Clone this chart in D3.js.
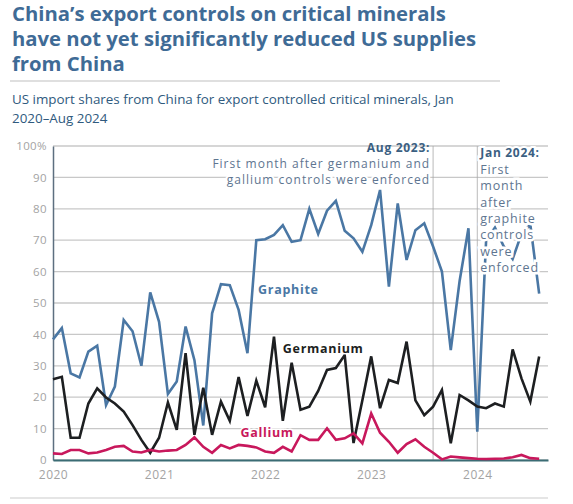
<!DOCTYPE html>
<meta charset="utf-8">
<script src="https://d3js.org/d3.v7.min.js"></script>
<style>
body { margin: 0; background: #fff; }
#chart text { font-family: "Open Sans", sans-serif; }
</style>
<div id="chart"></div>
<script>
// monthly values, Jan 2020 .. Aug 2024 (index 0 = Jan 2020)
var graphite = [38.4, 42, 27.6, 26.3, 34.5, 36.4, 17.5, 23.4, 44.6, 41, 30, 53.4,
  44, 21, 25, 42.5, 31.8, 11, 46.7, 56, 55.7, 47.8, 34, 70,
  70.3, 71.7, 74.8, 69.5, 70, 80, 72, 79.4, 82.5, 73, 70.6, 66.3,
  74.8, 86, 55.2, 81.7, 63.7, 73.2, 75.4, 68, 60, 35, 57, 73.8,
  9, 70, 74, 68, 64, 72, 75, 53];
var germanium = [25.7, 26.5, 7.1, 7.1, 18, 22.8, 19.9, 18, 15.4, 11.1, 6.4, 2.3,
  7.1, 18.3, 9.6, 34, 8, 23, 8, 18.6, 12.5, 26.4, 14, 25.3,
  16.8, 39.3, 12.5, 31, 16, 17, 22, 28.7, 29.3, 33.4, 5.4, 19,
  33, 16.5, 25.5, 24.5, 37.7, 19, 14.3, 17, 22.3, 5.3, 20.7, 19,
  17, 16.5, 18, 17, 35.2, 26, 18.6, 33];
var gallium = [2.1, 1.9, 3.2, 3.2, 2.1, 2.4, 3.2, 4.2, 4.5, 2.7, 2.4, 3.2,
  2.7, 3.0, 3.2, 4.8, 7.2, 4.2, 2.3, 4.8, 3.7, 4.8, 4.5, 4.0,
  2.7, 2.3, 4.2, 2.7, 7.9, 6.4, 6.4, 10.1, 6.4, 6.9, 8.5, 5.3,
  14.8, 8.7, 5.8, 2.3, 5.1, 6.6, 4.2, 2.3, 0.2, 1.1, 0.85, 0.6,
  0.4, 0.3, 0.4, 0.5, 0.85, 1.6, 0.6, 0.4];
var yearTicks = [0, 12, 24, 36, 48];
var yearLabels = ["2020", "2021", "2022", "2023", "2024"];
var yTicks = [0, 10, 20, 30, 40, 50, 60, 70, 80, 90, 100];
var eventMonths = [43, 48]; // Aug 2023, Jan 2024

var W = 573, H = 504;
var margin = { top: 146, right: 25, bottom: 44, left: 53 };

var svg = d3.select("#chart").append("svg")
  .attr("width", W).attr("height", H);

// title + subtitle
var title = ["China\u2019s export controls on critical minerals",
  "have not yet significantly reduced US supplies",
  "from China"];
svg.append("g").selectAll("text").data(title).enter().append("text")
  .attr("x", 12).attr("y", function(d, i) { return 21 + i * 25; })
  .attr("font-size", "20.3px").attr("font-weight", "bold")
  .attr("fill", "#3f6b96").text(function(d) { return d; });

svg.append("line").attr("x1", 10).attr("x2", 500).attr("y1", 81).attr("y2", 81)
  .attr("stroke", "#d5d5d5").attr("stroke-width", 1.5);

var sub = ["US import shares from China for export controlled critical minerals, Jan",
  "2020\u2013Aug 2024"];
svg.append("g").selectAll("text").data(sub).enter().append("text")
  .attr("x", 12).attr("y", function(d, i) { return 104 + i * 19; })
  .attr("font-size", "13.4px").attr("fill", "#2f5a7e").text(function(d) { return d; });

svg.append("line").attr("x1", 10).attr("x2", 548).attr("y1", 498).attr("y2", 498)
  .attr("stroke", "#dcdcdc").attr("stroke-width", 1.5);

var x = d3.scaleLinear().domain([0, 56]).range([margin.left, W - margin.right]);
var y = d3.scaleLinear().domain([0, 100]).range([H - margin.bottom, margin.top]);

// grid
svg.append("g").selectAll("line").data(yTicks).enter().append("line")
  .attr("x1", x(0)).attr("x2", x(56))
  .attr("y1", function(d) { return y(d); }).attr("y2", function(d) { return y(d); })
  .attr("stroke", "#c8c8c8").attr("stroke-width", 1.3);

// event lines
svg.append("g").selectAll("line").data(eventMonths).enter().append("line")
  .attr("x1", function(d) { return x(d); }).attr("x2", function(d) { return x(d); })
  .attr("y1", y(100)).attr("y2", y(0))
  .attr("stroke", "#a8a8a8").attr("stroke-width", 0.8);

// axes
var yAxis = svg.append("g").attr("transform", "translate(" + x(0) + ",0)")
  .call(d3.axisLeft(y).tickValues(yTicks).tickSize(0).tickPadding(6)
    .tickFormat(function(d) { return d === 100 ? "100%" : d; }));
yAxis.select(".domain").attr("stroke", "#5d6f80").attr("stroke-width", 1.5);
yAxis.selectAll("text").attr("font-size", "11.5px").attr("fill", "#a3a3a3")
  .attr("letter-spacing", "0.4px");

var xAxis = svg.append("g").attr("transform", "translate(0," + y(0) + ")")
  .call(d3.axisBottom(x).tickValues(yearTicks).tickSize(0).tickPadding(10)
    .tickFormat(function(d, i) { return yearLabels[i]; }));
xAxis.select(".domain").attr("stroke", "#3b6c74").attr("stroke-width", 2);
xAxis.selectAll("text").attr("font-size", "12px").attr("fill", "#a3a3a3")
  .attr("letter-spacing", "0.5px");

// series
var line = d3.line().x(function(d, i) { return x(i); }).y(function(d) { return y(d); });
var series = [
  { name: "Graphite", values: graphite, color: "#4a77a4" },
  { name: "Germanium", values: germanium, color: "#1d1f21" },
  { name: "Gallium", values: gallium, color: "#c8185c" }
];
svg.append("g").selectAll("path").data(series).enter().append("path")
  .attr("d", function(d) { return line(d.values); })
  .attr("fill", "none").attr("stroke", function(d) { return d.color; })
  .attr("stroke-width", 2.6).attr("stroke-linejoin", "miter");

// series labels (month, value at text centre)
var labelPos = [[23.2, 54.4], [26, 35.6], [21.2, 8.6]];
svg.append("g").selectAll("text").data(series).enter().append("text")
  .attr("x", function(d, i) { return x(labelPos[i][0]); })
  .attr("y", function(d, i) { return y(labelPos[i][1]) + 4.5; })
  .attr("font-size", "12.5px").attr("font-weight", "bold").attr("letter-spacing", "0.7px")
  .attr("fill", function(d) { return d.color; })
  .attr("stroke", "#fff").attr("stroke-width", 3).attr("paint-order", "stroke")
  .text(function(d) { return d.name; });

// annotations
var ann1 = ["First month after germanium and", "gallium controls were enforced"];
var ann2 = ["First", "month", "after", "graphite", "controls", "were", "enforced"];
var g1 = svg.append("g").attr("text-anchor", "end");
g1.append("text").attr("x", x(43) - 3).attr("y", 152)
  .attr("font-size", "12px").attr("font-weight", "bold").attr("fill", "#3b5f82")
  .attr("letter-spacing", "0.7px")
  .text("Aug 2023:");
g1.selectAll("text.l").data(ann1).enter().append("text").attr("class", "l")
  .attr("x", x(43) - 3).attr("y", function(d, i) { return 168 + i * 16; })
  .attr("font-size", "12px").attr("fill", "#5e7590").attr("letter-spacing", "1px")
  .attr("stroke", "#fff").attr("stroke-width", 4).attr("paint-order", "stroke")
  .text(function(d) { return d; });

var g2 = svg.append("g");
g2.append("text").attr("x", x(48) + 3).attr("y", 157)
  .attr("font-size", "12px").attr("font-weight", "bold").attr("fill", "#3b5f82")
  .attr("letter-spacing", "0.7px")
  .attr("stroke", "#fff").attr("stroke-width", 4).attr("paint-order", "stroke")
  .text("Jan 2024:");
g2.selectAll("text.l").data(ann2).enter().append("text").attr("class", "l")
  .attr("x", x(48) + 3).attr("y", function(d, i) { return 174 + i * 16.3; })
  .attr("font-size", "12.5px").attr("fill", "#5e7590").attr("letter-spacing", "0.8px")
  .attr("stroke", "#fff").attr("stroke-width", 5).attr("paint-order", "stroke")
  .text(function(d) { return d; });
</script>
